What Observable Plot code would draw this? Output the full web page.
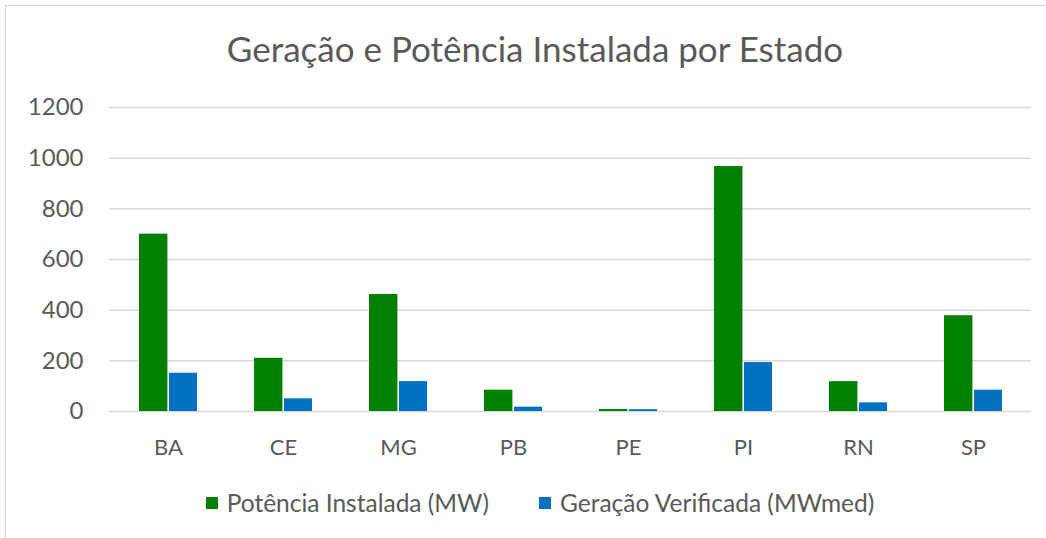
<!DOCTYPE html>
<html>
<head>
<meta charset="utf-8">
<script src="https://cdn.jsdelivr.net/npm/d3@7"></script>
<script src="https://cdn.jsdelivr.net/npm/@observablehq/plot@0.6"></script>
<style>
  html, body { margin: 0; padding: 0; background: #fff; }
  body { width: 1046px; height: 538px; position: relative; overflow: hidden; font-family: Lato, "Open Sans", sans-serif; }
  #frame { position: absolute; left: 5px; top: 5px; width: 1060px; height: 560px; border-top: 1.5px solid #d9d9d9; border-left: 1.5px solid #d9d9d9; box-sizing: border-box; }
  #title { position: absolute; left: 0; top: 27px; width: 1070px; text-align: center; font-size: 35px; color: #595959; white-space: nowrap; }
  #chart { position: absolute; left: 0; top: 90px; }
  #legend { position: absolute; left: 0; top: 488px; width: 1080px; display: flex; justify-content: center; gap: 50px; font-size: 24.5px; color: #595959; }
  .item { display: flex; align-items: center; white-space: nowrap; }
  .sw { width: 12px; height: 12px; margin-right: 9px; display: inline-block; }
</style>
</head>
<body>
<div id="frame"></div>
<div id="title">Geração e Potência Instalada por Estado</div>
<div id="chart"></div>
<div id="legend"></div>
<script>
const states = ["BA", "CE", "MG", "PB", "PE", "PI", "RN", "SP"];
const potencia = [700, 210, 462, 84, 8, 967, 118, 378];
const geracao = [151, 50, 118, 17, 7, 193, 34, 84];
const yTicks = [0, 200, 400, 600, 800, 1000, 1200];
const seriesNames = ["Potência Instalada (MW)", "Geração Verificada (MWmed)"];
const seriesColors = ["#008000", "#0070C0"];

const potData = states.map((s, i) => ({state: s, series: seriesNames[0], value: potencia[i]}));
const gerData = states.map((s, i) => ({state: s, series: seriesNames[1], value: geracao[i]}));

const chart = Plot.plot({
  width: 1046,
  height: 381,
  marginTop: 17,
  marginBottom: 60,
  marginLeft: 109,
  marginRight: 15,
  style: {fontSize: "22px", fontFamily: "Lato, 'Open Sans', sans-serif", color: "#595959", background: "transparent"},
  x: {domain: states, paddingInner: 0.5, paddingOuter: 0.25},
  y: {domain: [0, 1200]},
  marks: [
    Plot.gridY(yTicks, {stroke: "#d9d9d9", strokeOpacity: 1, strokeWidth: 1.5}),
    Plot.barY(potData, {x: "state", y: "value", fill: seriesColors[0], insetRight: 29.6}),
    Plot.barY(gerData, {x: "state", y: "value", fill: seriesColors[1], insetLeft: 30}),
    Plot.axisY(yTicks, {tickSize: 0, tickPadding: 26, label: null, fontSize: 24, tickFormat: d => String(d)}),
    Plot.axisX({tickSize: 0, tickPadding: 28, label: null})
  ]
});
document.getElementById("chart").appendChild(chart);

const legend = document.getElementById("legend");
seriesNames.forEach((name, i) => {
  const item = document.createElement("div");
  item.className = "item";
  const sw = document.createElement("span");
  sw.className = "sw";
  sw.style.background = seriesColors[i];
  item.appendChild(sw);
  item.appendChild(document.createTextNode(name));
  legend.appendChild(item);
});
</script>
</body>
</html>
